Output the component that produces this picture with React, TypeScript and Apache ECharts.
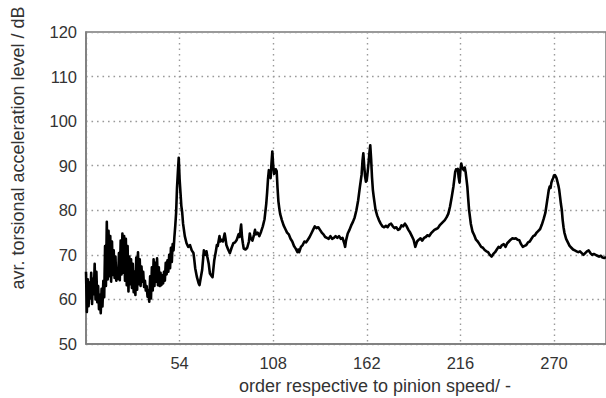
import React, { useEffect, useRef } from "react";
import * as echarts from "echarts";

// Axis ticks and titles
const yTicks = [50, 60, 70, 80, 90, 100, 110, 120];
const xTickStep = 54;
const xTitle = "order respective to pinion speed/ -";
const yTitle = "avr. torsional acceleration level / dB";

// Low-order region: broadband, strongly fluctuating level [order, dB]
const lowOrderBand: [number, number][] = [
  [0, 66.2], [0.5, 57.2], [1, 64.5], [1.5, 58.5], [2, 63.8], [2.5, 60.2],
  [3, 66.0], [3.5, 59.0], [4, 64.6], [4.5, 61.2], [5, 68.0], [5.5, 60.0],
  [6, 66.2], [6.5, 59.4], [7, 63.0], [7.5, 57.8], [8, 61.0], [8.5, 56.9],
  [9, 62.4], [9.5, 58.4], [10, 64.2], [10.5, 60.5], [11, 72.0], [11.5, 63.0],
  [12, 77.4], [12.5, 64.5], [13, 75.4], [13.5, 65.2], [14, 74.2], [14.5, 64.0],
  [15, 73.0], [15.5, 65.5], [16, 71.0], [16.5, 64.8], [17, 69.6], [17.5, 64.2],
  [18, 66.8], [18.5, 64.6], [19, 70.4], [19.5, 64.3], [20, 73.2], [20.5, 65.6],
  [21, 74.8], [21.5, 66.0], [22, 74.2], [22.5, 64.2], [23, 73.6], [23.5, 63.2],
  [24, 72.0], [24.5, 61.8], [25, 69.6], [25.5, 63.4], [26, 69.0], [26.5, 62.6],
  [27, 68.0], [27.5, 61.6], [28, 66.2], [28.5, 61.0], [29, 69.4], [29.5, 62.2],
  [30, 70.6], [30.5, 63.4], [31, 69.0], [31.5, 63.0], [32, 67.4], [32.5, 64.0],
  [33, 66.2], [33.5, 62.8], [34, 64.2], [34.5, 62.0], [35, 63.0], [35.5, 60.6],
  [36, 62.0], [36.5, 59.5], [37, 65.2], [37.5, 60.2], [38, 67.2], [38.5, 62.0],
  [39, 69.0], [39.5, 63.0], [40, 68.2], [40.5, 64.0], [41, 69.2], [41.5, 63.2],
  [42, 67.2], [42.5, 63.0], [43, 66.0], [43.5, 63.2], [44, 65.4], [44.5, 63.6],
  [45, 66.2], [45.5, 64.2], [46, 68.2], [46.5, 65.6], [47, 68.8], [47.5, 66.2],
  [48, 70.0], [48.5, 67.0], [49, 71.6], [49.5, 68.4], [50, 72.4],
];

// First and second mesh order (54, 108)
const meshOrders1and2: [number, number][] = [
  [50.5, 71.0], [51, 74.0], [51.5, 76.5], [52, 79.5], [52.5, 85.0], [53, 88.5],
  [53.5, 91.8], [54, 87.0], [54.5, 84.0], [55, 81.0], [55.5, 79.5], [56, 77.0],
  [57, 74.2], [58, 72.6], [59, 71.8], [60, 72.2], [61, 71.0], [62, 70.4],
  [62.5, 68.8], [63, 67.0], [64, 65.0], [65, 63.6], [65.5, 63.2], [66, 64.4],
  [67, 66.6], [68, 71.0], [69, 70.0], [69.5, 70.8], [70, 69.6], [70.8, 68.0],
  [71.5, 65.8], [72, 65.5], [73, 65.0], [74, 68.8], [75, 71.0], [75.5, 72.2],
  [76, 72.0], [77, 74.2], [77.5, 73.0], [78, 73.4], [79, 73.0], [80, 74.8],
  [80.5, 73.6], [81, 72.2], [82, 71.2], [83, 70.4], [84, 71.6], [85, 72.6],
  [86, 72.8], [87, 73.4], [88, 74.6], [88.5, 74.0], [89, 75.2], [89.5, 76.8],
  [90, 74.0], [90.5, 72.6], [91, 71.4], [92, 71.2], [93, 71.6], [94, 73.0],
  [94.5, 74.8], [95, 73.8], [96, 73.2], [97, 74.6], [97.5, 75.6], [98, 74.6],
  [99, 75.0], [100, 74.2], [101, 75.2], [102, 76.4], [103, 78.0], [104, 81.5],
  [104.5, 84.0], [105, 87.0], [105.5, 89.0], [106, 88.6], [106.5, 87.2],
  [107, 90.5], [107.5, 93.2], [108, 90.0], [108.5, 88.2], [109, 88.5],
  [109.5, 89.2], [110, 88.8], [110.5, 85.0], [111, 82.0], [111.5, 80.5],
  [112, 79.2], [113, 77.8], [114, 76.6], [115, 75.8], [116, 75.0], [117, 74.6],
  [118, 73.6], [119, 73.0], [120, 72.0], [121, 71.4], [122, 70.6], [122.5, 71.2],
  [123, 70.6], [124, 71.8], [125, 72.2], [126, 73.0], [127, 72.8], [128, 73.4],
  [129, 74.0], [130, 74.8], [131, 75.6], [132, 76.4], [133, 76.0], [134, 76.2],
  [135, 75.6], [136, 75.0], [137, 74.6], [138, 74.0], [139, 73.8], [140, 73.6],
  [141, 74.2], [142, 73.6], [143, 73.8], [144, 74.2], [145, 73.8], [146, 74.2],
  [147, 73.6], [148, 73.8], [149, 72.6], [149.5, 71.8], [150, 73.2],
];

// Third and fourth mesh order (162, 216)
const meshOrders3and4: [number, number][] = [
  [151, 74.8], [152, 75.6], [153, 76.6], [154, 77.4], [155, 78.4], [156, 80.0],
  [157, 82.2], [158, 85.2], [158.5, 86.6], [159, 88.0], [159.5, 91.0],
  [160, 92.8], [160.5, 90.0], [161, 87.6], [161.5, 86.4], [162, 86.8],
  [162.5, 88.6], [163, 90.5], [163.5, 92.8], [164, 94.6], [164.5, 91.5],
  [165, 87.4], [165.5, 84.6], [166, 83.0], [167, 80.2], [168, 78.8], [169, 77.8],
  [170, 77.0], [171, 76.4], [172, 76.2], [173, 76.5], [174, 76.2], [175, 76.8],
  [176, 77.0], [177, 76.4], [178, 76.0], [179, 76.2], [180, 75.6], [181, 75.8],
  [182, 76.6], [183, 76.4], [184, 77.0], [185, 76.4], [186, 75.6], [187, 75.0],
  [188, 74.2], [189, 73.4], [190, 71.8], [190.5, 72.4], [191, 73.0], [192, 73.4],
  [193, 73.7], [194, 73.2], [195, 73.8], [196, 74.0], [197, 74.4], [198, 74.2],
  [199, 74.8], [200, 75.2], [201, 75.6], [202, 75.8], [203, 76.0], [204, 76.6],
  [205, 77.0], [206, 77.4], [207, 77.8], [208, 78.4], [209, 79.2], [210, 80.8],
  [211, 83.0], [212, 85.4], [213, 88.6], [213.5, 89.2], [214, 89.0],
  [214.5, 89.3], [215, 87.4], [215.5, 86.2], [216, 89.0], [216.5, 90.5],
  [217, 89.6], [217.5, 89.3], [218, 89.0], [218.5, 89.6], [219, 88.6],
  [219.5, 87.0], [220, 85.3], [220.5, 82.6], [221, 80.1], [222, 77.0],
  [223, 75.2], [224, 74.4], [225, 73.4], [226, 73.0], [227, 72.4], [228, 71.8],
  [229, 71.6], [230, 71.1], [231, 70.8], [232, 70.6], [233, 70.0], [234, 69.6],
  [235, 70.2], [236, 70.6], [237, 71.2], [238, 71.8], [239, 71.6], [240, 72.2],
  [241, 72.4], [242, 71.8], [243, 72.6], [244, 73.0], [245, 73.4], [246, 73.7],
  [247, 73.6], [248, 73.7], [249, 73.4], [250, 73.3],
];

// Fifth mesh order (270) and tail
const meshOrder5: [number, number][] = [
  [251, 72.4], [252, 71.8], [253, 72.0], [254, 72.2], [255, 72.8], [256, 73.0],
  [257, 73.6], [258, 74.2], [259, 74.4], [260, 75.0], [261, 75.4], [262, 75.8],
  [263, 76.8], [264, 78.0], [265, 79.4], [266, 82.0], [267, 84.6], [267.5, 85.3],
  [268, 85.0], [268.5, 86.2], [269, 86.8], [269.5, 87.2], [270, 87.8],
  [270.5, 87.9], [271, 87.6], [271.5, 87.2], [272, 86.4], [272.5, 85.6],
  [273, 84.6], [273.5, 83.0], [274, 81.4], [274.5, 80.1], [275, 77.8],
  [275.5, 76.2], [276, 75.0], [277, 73.6], [278, 72.8], [279, 72.0], [280, 71.6],
  [281, 71.2], [282, 71.0], [283, 70.8], [284, 70.6], [285, 70.8], [286, 70.4],
  [287, 70.0], [288, 70.4], [289, 70.8], [290, 71.0], [291, 70.4], [292, 70.0],
  [293, 70.2], [294, 70.0], [295, 69.8], [296, 69.6], [297, 69.8], [298, 69.4],
  [299, 69.3], [300, 69.5],
];

const FONT = "'Liberation Sans', Arial, Helvetica, sans-serif";
const TEXT_COLOR = "#333";
const FRAME_COLOR = "#7a7a7a";
const GRID_COLOR = "#9a9a9a";

export default function App() {
  const ref = useRef<HTMLDivElement>(null);

  useEffect(() => {
    if (!ref.current) return;
    const chart = echarts.init(ref.current, undefined, { renderer: "svg" });
    const spectrum = [...lowOrderBand, ...meshOrders1and2, ...meshOrders3and4, ...meshOrder5];

    chart.setOption({
      animation: false,
      backgroundColor: "#fff",
      grid: {
        left: 86,
        right: -1,
        top: 32,
        bottom: 54,
        show: true,
        borderColor: FRAME_COLOR,
        borderWidth: 1.5,
        backgroundColor: "transparent",
      },
      xAxis: {
        type: "value",
        min: 0,
        max: 300,
        interval: xTickStep,
        axisLine: { show: true, lineStyle: { color: FRAME_COLOR, width: 1.5 } },
        axisTick: { show: false },
        axisLabel: {
          margin: 10,
          fontSize: 16.5,
          fontFamily: FONT,
          color: TEXT_COLOR,
          showMinLabel: false,
          showMaxLabel: false,
          formatter: (v: number) => (v > 0 && v < 300 ? String(v) : ""),
        },
        splitLine: {
          show: true,
          lineStyle: { color: GRID_COLOR, width: 1.4, type: [1.6, 3.9] },
        },
      },
      yAxis: {
        type: "value",
        min: yTicks[0],
        max: yTicks[yTicks.length - 1],
        interval: 10,
        axisLine: { show: true, lineStyle: { color: FRAME_COLOR, width: 1.5 } },
        axisTick: { show: false },
        axisLabel: {
          margin: 9,
          fontSize: 16.5,
          fontFamily: FONT,
          color: TEXT_COLOR,
        },
        splitLine: {
          show: true,
          lineStyle: { color: GRID_COLOR, width: 1.4, type: [1.6, 3.9] },
        },
      },
      series: [
        {
          type: "line",
          data: spectrum,
          showSymbol: false,
          symbol: "none",
          lineStyle: { color: "#000", width: 2.6, join: "round" },
          z: 3,
        },
      ],
      graphic: [
        {
          type: "text",
          x: 375,
          y: 386,
          style: {
            text: xTitle,
            font: `18px ${FONT}`,
            fill: TEXT_COLOR,
            align: "center",
            verticalAlign: "middle",
          },
        },
        {
          type: "text",
          x: 18,
          y: 148,
          rotation: Math.PI / 2,
          style: {
            text: yTitle,
            font: `18px ${FONT}`,
            fill: TEXT_COLOR,
            align: "center",
            verticalAlign: "middle",
          },
        },
      ],
    });

    return () => chart.dispose();
  }, []);

  return <div ref={ref} style={{ width: 606, height: 398, position: "absolute", left: 0, top: 0 }} />;
}
